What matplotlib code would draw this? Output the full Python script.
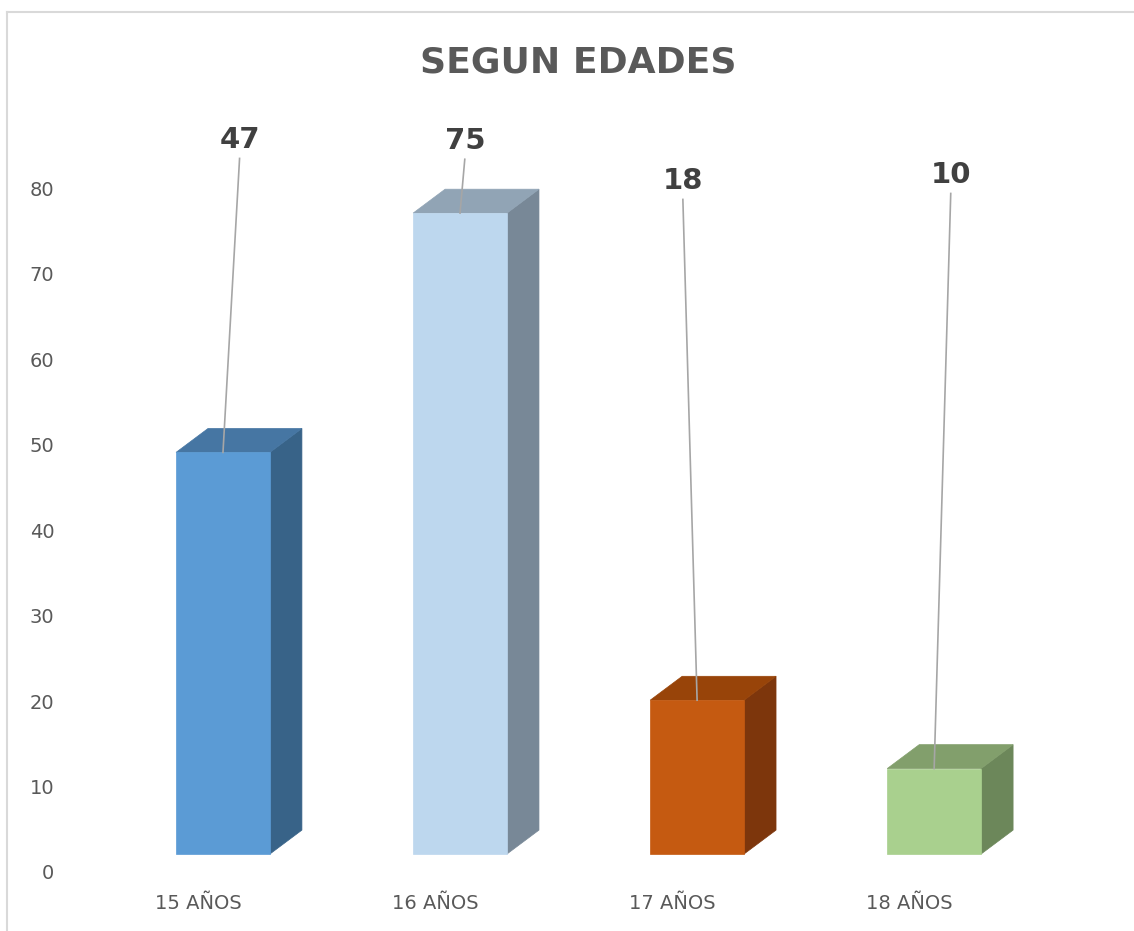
import matplotlib.pyplot as plt
from matplotlib.patches import Polygon
from matplotlib.lines import Line2D

categories = ["15 AÑOS", "16 AÑOS", "17 AÑOS", "18 AÑOS"]
values = [47, 75, 18, 10]
labels = ["47", "75", "18", "10"]
# where each data label sits (x in category units, baseline y in value units)
label_x = [0.07, 1.02, 1.94, 3.07]
label_y = [84.7, 84.6, 79.9, 80.6]

front_colors = ["#5B9BD5", "#BDD7EE", "#C55A11", "#A9D08E"]
top_colors = ["#4676A3", "#91A4B5", "#984409", "#829F6C"]
side_colors = ["#386388", "#788897", "#7D360C", "#6C875A"]

plt.rcParams['font.family'] = ['Liberation Sans Narrow', 'DejaVu Sans']

fig = plt.figure(figsize=(11.34, 9.31), dpi=100)
ax = fig.add_axes([0.0503, 0.0634, 0.9198, 0.872])
ax.set_xlim(-0.7, 3.7)
ax.set_ylim(0, 95)

half = 0.198      # half width of the front face
dx, dy = 0.135, 2.8   # depth offset of the 3d box
base = 2.1        # front face is lifted a bit by the perspective

for i, v in enumerate(values):
    x0, x1 = i - half, i + half
    y0, y1 = base, v + base
    front = Polygon([(x0, y0), (x1, y0), (x1, y1), (x0, y1)], closed=True,
                    facecolor=front_colors[i], edgecolor=front_colors[i], lw=0.5)
    top = Polygon([(x0, y1), (x1, y1), (x1 + dx, y1 + dy), (x0 + dx, y1 + dy)], closed=True,
                  facecolor=top_colors[i], edgecolor=top_colors[i], lw=0.5)
    side = Polygon([(x1, y0), (x1 + dx, y0 + dy), (x1 + dx, y1 + dy), (x1, y1)], closed=True,
                   facecolor=side_colors[i], edgecolor=side_colors[i], lw=0.5)
    for p in (side, top, front):
        ax.add_patch(p)

    # leader line from the label down to the bar top
    ax.plot([label_x[i], i], [label_y[i] - 1.2, y1], color="#A6A6A6", lw=1.2,
            clip_on=False, zorder=1)
    ax.text(label_x[i], label_y[i], labels[i], ha="center", va="baseline",
            fontsize=21, fontweight="bold", color="#404040",
            family="DejaVu Sans", clip_on=False)

ax.set_yticks(range(0, 90, 10))
ax.set_yticklabels([str(t) for t in range(0, 90, 10)])
ax.set_xticks([i - 0.105 for i in range(len(categories))])
ax.set_xticklabels(categories)
ax.tick_params(axis="both", length=0, labelsize=14, labelcolor="#595959")
ax.tick_params(axis="x", pad=16)
ax.tick_params(axis="y", pad=2)
for s in ax.spines.values():
    s.set_visible(False)

fig.text(0.51, 0.933, "SEGUN EDADES", ha="center", va="center", fontsize=26,
         fontweight="bold", color="#595959", family="DejaVu Sans")

# chart area border (top and left edges visible in the crop)
fig.add_artist(Line2D([0.0062, 1.0], [0.987, 0.987], color="#D9D9D9", lw=1.5))
fig.add_artist(Line2D([0.0062, 0.0062], [0.0, 0.987], color="#D9D9D9", lw=1.5))

fig.savefig("out.png", dpi=100)
